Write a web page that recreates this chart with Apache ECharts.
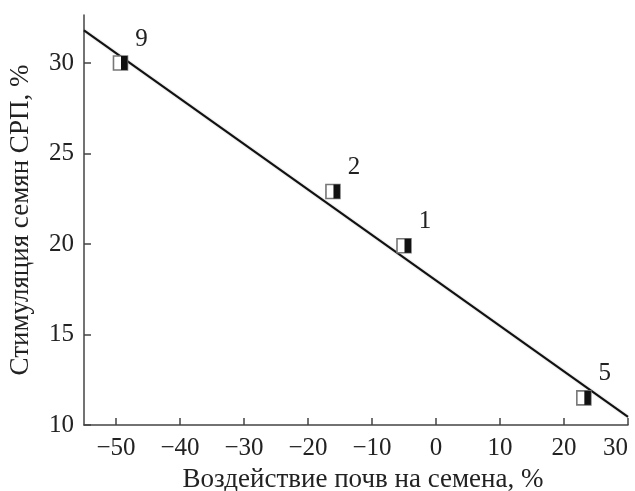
<!DOCTYPE html>
<html><head><meta charset="utf-8">
<script src="https://cdn.jsdelivr.net/npm/echarts@6/dist/echarts.min.js"></script>
<style>html,body{margin:0;padding:0;background:#fff}#c{width:635px;height:491px}</style>
</head><body><div id="c"></div>
<script>
// Data
const pointLabels = ['9', '2', '1', '5'];
const soilEffect = [-49.3, -16.1, -5.0, 23.1];      // x, %
const seedStimulation = [30.0, 22.9, 19.9, 11.5];   // y, %
const fitX = [-55, 30];
const fitY = [31.8, 10.45];
const xTicks = [-50, -40, -30, -20, -10, 0, 10, 20, 30];
const yTicks = [10, 15, 20, 25, 30];

const font = 'Liberation Serif';
const txt = '#222';
const axisCol = '#444';

const chart = echarts.init(document.getElementById('c'));
const pts = soilEffect.map((x, i) => [x, seedStimulation[i]]);

chart.setOption({
  animation: false,
  grid: {left: 84, right: 7, top: 15, bottom: 66, outerBoundsMode: 'none', containLabel: false},
  xAxis: {
    type: 'value', min: -55, max: 30,
    name: 'Воздействие почв на семена, %', nameLocation: 'middle', nameGap: 41,
    nameTextStyle: {fontFamily: font, fontSize: 27, color: txt, padding: [0, 0, 0, 14]},
    axisLine: {onZero: false, lineStyle: {color: axisCol, width: 1.5}},
    axisTick: {inside: true, length: 7, customValues: xTicks, lineStyle: {color: axisCol, width: 1.5}},
    axisLabel: {customValues: xTicks, fontFamily: font, fontSize: 25, color: txt, margin: 11,
      alignMaxLabel: 'right', padding: [0, 0, 0, 0],
      formatter: v => (v < 0 ? '\u2212' + Math.abs(v) : String(v))},
    splitLine: {show: false}
  },
  yAxis: {
    type: 'value', min: 10, max: 32.65,
    name: 'Стимуляция семян СРП, %', nameLocation: 'middle', nameGap: 50, nameRotate: 90,
    nameTextStyle: {fontFamily: font, fontSize: 27, color: txt},
    axisLine: {show: true, onZero: false, lineStyle: {color: axisCol, width: 1.5}},
    axisTick: {show: true, inside: true, length: 7, customValues: yTicks, lineStyle: {color: axisCol, width: 1.5}},
    axisLabel: {customValues: yTicks, fontFamily: font, fontSize: 25, color: txt, margin: 10},
    splitLine: {show: false}
  },
  series: [
    {
      type: 'line', data: fitX.map((x, i) => [x, fitY[i]]),
      symbol: 'none', lineStyle: {color: '#111', width: 2, shadowColor: 'rgba(0,0,0,0.25)', shadowBlur: 2}, z: 3
    },
    {
      type: 'custom', z: 4,
      data: pts,
      encode: {x: 0, y: 1},
      renderItem: (params, api) => {
        const p = api.coord([api.value(0), api.value(1)]);
        const s = 14;
        return {
          type: 'group',
          children: [
            {type: 'rect', shape: {x: p[0] - s / 2, y: p[1] - s / 2, width: s, height: s},
             style: {fill: '#fff', stroke: '#777', lineWidth: 1.6}},
            {type: 'rect', shape: {x: p[0] + 0.5, y: p[1] - s / 2, width: s / 2 - 0.5, height: s},
             style: {fill: '#111'}},
            {type: 'text', x: p[0] + 21, y: p[1] - 24,
             style: {text: pointLabels[params.dataIndex],
               fontFamily: font, fontSize: 25, fill: txt, align: 'center', verticalAlign: 'middle'}}
          ]
        };
      }
    }
  ]
});
</script></body></html>
